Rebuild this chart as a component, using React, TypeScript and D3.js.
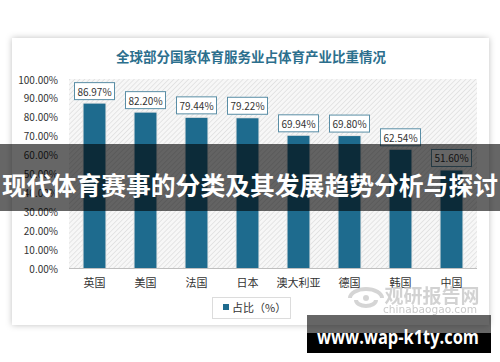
import React from "react";
import * as d3 from "d3";

const categories = ["英国", "美国", "法国", "日本", "澳大利亚", "德国", "韩国", "中国"];
const values = [86.97, 82.2, 79.44, 79.22, 69.94, 69.8, 62.54, 51.6];
const yTicks = [0, 10, 20, 30, 40, 50, 60, 70, 80, 90, 100];
const titleText = "全球部分国家体育服务业占体育产业比重情况";
const legendText = "占比（%）";
const bannerText = "现代体育赛事的分类及其发展趋势分析与探讨";
const urlText = "www.wap-k1ty.com";

const W = 500;
const H = 362;
const plot = { left: 69, right: 477, top: 79, bottom: 268 };
const barColor = "#1e6b8e";
const cjk = "'Noto Sans CJK SC', 'Noto Sans', sans-serif";

export default function App() {
  const x = d3
    .scaleBand<string>()
    .domain(categories)
    .range([plot.left, plot.right])
    .paddingInner(0.57)
    .paddingOuter(0.285);
  const y = d3.scaleLinear().domain([0, 100]).range([plot.bottom, plot.top]);
  const bw = x.bandwidth();

  return (
    <svg
      width={W}
      height={H}
      style={{ position: "absolute", left: 0, top: 0, background: "#fff" }}
      fontFamily={cjk}
    >
      <defs>
        <filter id="shadow" x="-5%" y="-5%" width="110%" height="110%">
          <feDropShadow dx="0" dy="0" stdDeviation="3" floodColor="#000" floodOpacity="0.25" />
        </filter>
        <pattern id="hatch" width="3.5" height="3.5" patternUnits="userSpaceOnUse" patternTransform="rotate(45)">
          <rect width="3.5" height="3.5" fill="#f7f7f7" />
          <line x1="0" y1="0" x2="0" y2="3.5" stroke="#d9d9d9" strokeWidth="1.2" />
        </pattern>
      </defs>

      {/* card */}
      <rect x={12} y={38} width={477} height={287} fill="#fff" filter="url(#shadow)" />

      {/* title */}
      <text x={251} y={56} textAnchor="middle" dominantBaseline="central" fontSize={13.5} fontWeight={700} fill="#2c6f8d">
        {titleText}
      </text>

      {/* plot background */}
      <rect x={plot.left} y={plot.top} width={plot.right - plot.left} height={plot.bottom - plot.top} fill="url(#hatch)" />

      {/* y ticks */}
      {yTicks.map((t) => (
        <text key={t} x={58} y={y(t)} textAnchor="end" dominantBaseline="central" fontSize={10} fill="#333">
          {t.toFixed(2)}%
        </text>
      ))}

      {/* bars */}
      {categories.map((c, i) => {
        const bx = x(c)!;
        const by = y(values[i]);
        const cx = bx + bw / 2;
        return (
          <g key={c}>
            <rect x={bx - 1} y={by - 1} width={bw + 2} height={plot.bottom - by + 1} fill="#e6e6e6" />
            <rect x={bx} y={by} width={bw} height={plot.bottom - by} fill={barColor} />
            <rect x={cx - 20} y={by - 21} width={40} height={17} fill="#fff" stroke="#5a8ea6" strokeWidth={1} />
            <text x={cx} y={by - 12.5} textAnchor="middle" dominantBaseline="central" fontSize={10} fill="#333">
              {values[i].toFixed(2)}%
            </text>
            <text x={cx} y={282} textAnchor="middle" dominantBaseline="central" fontSize={11} fill="#333">
              {c}
            </text>
          </g>
        );
      })}

      {/* x axis line */}
      <line x1={plot.left} x2={plot.right} y1={plot.bottom + 0.5} y2={plot.bottom + 0.5} stroke="#bfbfbf" strokeWidth={1} />

      {/* legend */}
      <rect x={212.5} y={297.5} width={78} height={21} fill="#fff" stroke="#dcdcdc" />
      <rect x={223} y={304} width={6} height={6} fill={barColor} />
      <text x={232} y={307} dominantBaseline="central" fontSize={11} fill="#333">
        {legendText}
      </text>

      {/* watermark */}
      <g opacity={0.75}>
        <path d="M350,298 A16,9 0 1,1 382,298" fill="none" stroke="#c8c8c8" strokeWidth={4} />
        <path d="M356,300 A10,6 0 1,0 376,300" fill="none" stroke="#c8c8c8" strokeWidth={4} />
        <circle cx={366} cy={298} r={3} fill="#c8c8c8" />
        <text x={432} y={294} textAnchor="middle" dominantBaseline="central" fontSize={19} fontWeight={700} fill="#c4c4c4">
          观研报告网
        </text>
        <text x={430} y={309} textAnchor="middle" dominantBaseline="central" fontSize={10.5} fill="#b8b8b8" fontFamily="'DejaVu Sans', sans-serif" textLength={94} lengthAdjust="spacingAndGlyphs">
          chinabaogao.com
        </text>
      </g>

      {/* banner */}
      <rect x={0} y={144} width={W} height={67} fill="rgba(0,0,0,0.6)" />
      <text x={250} y={184} textAnchor="middle" dominantBaseline="central" fontSize={25} fontWeight={700} fill="#fff" textLength={496} lengthAdjust="spacingAndGlyphs">
        {bannerText}
      </text>

      {/* url box */}
      <rect x={307} y={315} width={184} height={20} fill="rgba(0,0,0,0.6)" />
      <rect x={307} y={333} width={184} height={20} fill="#000" />
      <text x={398} y={336} textAnchor="middle" dominantBaseline="central" fontSize={20} fontWeight={700} fill="#fff" fontFamily="'Open Sans', 'DejaVu Sans', sans-serif" textLength={162} lengthAdjust="spacingAndGlyphs">
        {urlText}
      </text>
    </svg>
  );
}
